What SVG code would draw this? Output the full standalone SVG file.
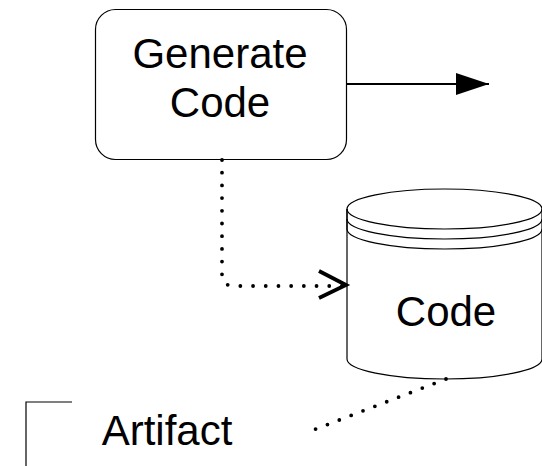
<svg xmlns="http://www.w3.org/2000/svg" width="542" height="466" viewBox="0 0 542 466">
<style>
.lbl{font-family:"Liberation Sans",Arial,sans-serif;font-size:42px;fill:#000;text-anchor:middle}
.thin{fill:none;stroke:#000;stroke-width:1.2}
.dot{fill:none;stroke:#000;stroke-width:3.8;stroke-linecap:round;stroke-dasharray:0 12.7}
</style>
<defs>
<marker id="tri" markerUnits="userSpaceOnUse" markerWidth="36" markerHeight="24" refX="33" refY="11" orient="auto">
<path d="M0,0 L33,11 L0,22 Z" fill="#000"/>
</marker>
</defs>
<rect width="542" height="466" fill="#fff"/>
<g id="connectors">
<path d="M347,84 H489" fill="none" stroke="#000" stroke-width="2.2" marker-end="url(#tri)"/>
<path class="dot" d="M222,160 V274 Q222,286 234,286 H347"/>
<path d="M319,271 L346,285 L319,298" fill="none" stroke="#000" stroke-width="3.8" stroke-linejoin="miter"/>
<path class="dot" d="M446,379 L308,432"/>
</g>
<g id="generate-code">
<rect class="thin" x="95.5" y="9.5" width="251" height="150" rx="20"/>
<text class="lbl" x="220" y="68">Generate</text>
<text class="lbl" x="220" y="117">Code</text>
</g>
<g id="code">
<path class="thin" d="M347,209 V359 A97.5,20 0 0 0 542,359 V209"/>
<ellipse class="thin" cx="444.5" cy="209" rx="97.5" ry="20"/>
<path class="thin" d="M347,209 V219 A97.5,20 0 0 0 542,219"/>
<path class="thin" d="M347,219 V229 A97.5,20 0 0 0 542,229"/>
<text class="lbl" x="446" y="326">Code</text>
</g>
<g id="artifact">
<path class="thin" d="M72,402 H26 V466"/>
<text class="lbl" x="167" y="445">Artifact</text>
</g>
</svg>
